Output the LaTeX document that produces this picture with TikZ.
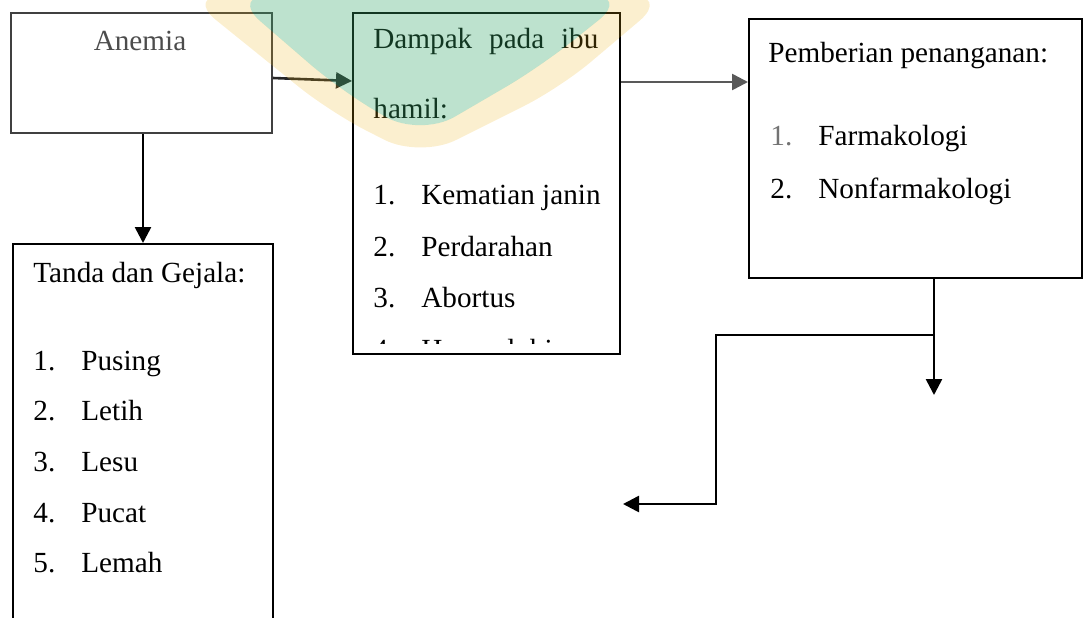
\documentclass[tikz,border=0pt]{standalone}
\usepackage{fontspec}
\setmainfont{Liberation Serif}
\usetikzlibrary{positioning, arrows.meta, calc}
\definecolor{wmgreen}{RGB}{55,167,105}
\definecolor{wmyellow}{RGB}{237,177,17}
\tikzset{
  box/.style={rectangle, draw=black, line width=1pt, anchor=north west, inner sep=0pt},
  txt/.style={anchor=base west, inner sep=0pt, font=\fontsize{14.6}{25}\selectfont},
  arrow/.style={line width=1.3pt, -{Triangle[length=8pt, width=8pt]}}
}
\newcommand{\nomor}[1]{\makebox[24pt][l]{#1}}

\begin{document}
\begin{tikzpicture}[x=0.5pt, y=-0.5pt]
        \useasboundingbox (0,0) rectangle (1088,617);
        \clip (0,0) rectangle (1088,617);

        % kotak
        \node (anemia) [box, draw=black!75, minimum width=130.5pt, minimum height=60pt] at (10,12) {};
        \node (dampak) [box, minimum width=133.5pt, minimum height=170.5pt] at (352,12) {};
        \node (pemberian) [box, minimum width=166.5pt, minimum height=129.5pt] at (748,18) {};
        \node (tanda) [box, minimum width=130pt, minimum height=200pt] at (12,243) {};

        % isi teks
        \node (anemiatxt) [txt, anchor=base, text=black!70] at (140,50) {Anemia};

        \node (tandahead) [txt] at (33,282) {Tanda dan Gejala:};
        \node (tanda1) [txt] at (33,370) {\nomor{1.}Pusing};
        \node (tanda2) [txt] at (33,420) {\nomor{2.}Letih};
        \node (tanda3) [txt] at (33,471) {\nomor{3.}Lesu};
        \node (tanda4) [txt] at (33,522) {\nomor{4.}Pucat};
        \node (tanda5) [txt] at (33,572) {\nomor{5.}Lemah};

        \begin{scope}
          \clip (352,12) rectangle (619,343);
          \node (dampakhead) [txt] at (373,48) {\makebox[112.5pt][s]{Dampak pada ibu}};
          \node (dampakhead2) [txt] at (373,118) {hamil:};
          \node (dampak1) [txt] at (373,204) {\nomor{1.}Kematian janin};
          \node (dampak2) [txt] at (373,256) {\nomor{2.}Perdarahan};
          \node (dampak3) [txt] at (373,307) {\nomor{3.}Abortus};
          \node (dampak4) [txt] at (373,359) {\nomor{4.}Hemoglobin};
        \end{scope}

        \node (pemberianhead) [txt] at (768,62) {Pemberian penanganan:};
        \node (pemberian1) [txt] at (770,145) {\nomor{\textcolor{black!55}{1.}}Farmakologi};
        \node (pemberian2) [txt] at (770,198) {\nomor{2.}Nonfarmakologi};

        % panah
        \coordinate (turun) at ($(pemberian.south)+(9.25pt,-58pt)$);
        \coordinate (cabang) at ($(pemberian.south)+(9.25pt,-28pt)$);
        \coordinate (siku) at (716,504);
        \coordinate (ujung) at (623,504);

        \draw [arrow, black!85] ([yshift=-2.5pt]anemia.east) -- ([yshift=-34.5pt]dampak.north west);
        \draw [arrow, black!65] ([yshift=-35pt]dampak.north east) -- ([yshift=-32pt]pemberian.north west);
        \draw [arrow] ([xshift=0.75pt]anemia.south) -- (tanda.north);
        \draw [arrow] ([xshift=9.25pt, yshift=1pt]pemberian.south) -- (turun);
        \draw [arrow] (cabang) -| (siku) -- (ujung);

        % watermark
        \fill [wmyellow, opacity=0.2, even odd rule, rounded corners=20pt]
          (185,-5) -- (330,112) -- (420,158) -- (560,88) -- (670,-5) -- cycle
          (230,-5) -- (340,90) -- (420,137) -- (540,67) -- (630,-5) -- cycle;
        \fill [wmgreen, opacity=0.33, rounded corners=20pt]
          (230,-5) -- (340,90) -- (420,137) -- (540,67) -- (630,-5) -- cycle;
\end{tikzpicture}
\end{document}
